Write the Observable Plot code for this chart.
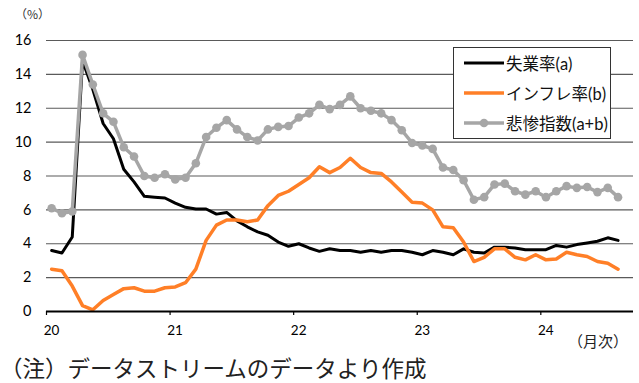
<!DOCTYPE html>
<html><head><meta charset="utf-8">
<script src="https://cdn.jsdelivr.net/npm/d3@7"></script>
<script src="https://cdn.jsdelivr.net/npm/@observablehq/plot@0.6"></script>
<style>
html,body{margin:0;background:#fff;overflow:hidden;}
#wrap{position:relative;width:639px;height:383px;overflow:hidden;font-family:Lato,"Noto Sans CJK JP",sans-serif;color:#000;}
#chart{position:absolute;left:0;top:0;}
.lbl{position:absolute;white-space:nowrap;font-family:"Noto Sans CJK JP",sans-serif;z-index:2;}
#legend{position:absolute;left:453px;top:47px;width:158px;height:92px;border:1.3px solid #333;background:#fff;box-sizing:border-box;}
.row{position:absolute;left:0;height:20px;display:flex;align-items:center;}
.row span{font-family:"Noto Sans CJK JP",sans-serif;font-size:16.5px;margin-left:2px;color:#111;}
.row span b{font-family:Lato,sans-serif;font-weight:normal;font-size:16.5px;}
</style></head>
<body>
<div id="wrap">
  <div id="chart"></div>
  <div class="lbl" style="left:15px;top:5px;font-size:12px;color:#333;">（%）</div>
  <div class="lbl" style="left:568px;top:330px;font-size:15px;color:#222;">（月次）</div>
  <div class="lbl" style="left:0px;top:351px;font-size:22.5px;color:#222;">（注）データストリームのデータより作成</div>
  <div id="legend"></div>
</div>
<script>
// Monthly data, Jan 2020 – Aug 2024
const unemployment = [3.6,3.45,4.4,14.8,13.1,11.1,10.2,8.4,7.65,6.8,6.75,6.7,6.4,6.15,6.05,6.05,5.75,5.85,5.35,5.0,4.7,4.5,4.1,3.85,4.0,3.75,3.55,3.7,3.6,3.6,3.5,3.6,3.5,3.6,3.6,3.5,3.35,3.6,3.5,3.35,3.7,3.5,3.45,3.8,3.8,3.75,3.65,3.65,3.65,3.9,3.8,3.95,4.05,4.15,4.35,4.2];
const inflation = [2.5,2.4,1.5,0.35,0.1,0.65,1.0,1.35,1.4,1.2,1.2,1.4,1.45,1.7,2.5,4.2,5.1,5.4,5.4,5.3,5.4,6.25,6.85,7.1,7.5,7.9,8.55,8.2,8.5,9.05,8.5,8.2,8.15,7.65,7.05,6.45,6.4,6.0,5.0,4.95,4.1,2.95,3.2,3.7,3.7,3.2,3.05,3.35,3.05,3.1,3.5,3.35,3.25,2.95,2.85,2.5];
const misery = [6.1,5.8,5.9,15.15,13.4,11.7,11.2,9.7,9.15,8.0,7.9,8.1,7.8,7.9,8.75,10.3,10.85,11.3,10.75,10.3,10.1,10.75,10.9,10.95,11.45,11.7,12.2,11.95,12.2,12.7,12.0,11.85,11.7,11.3,10.7,9.95,9.8,9.6,8.5,8.35,7.75,6.6,6.75,7.5,7.55,7.1,6.9,7.1,6.75,7.1,7.4,7.3,7.35,7.05,7.3,6.75];
const startYear = 20;
const nCategories = 57;
const yearTicks = [20, 21, 22, 23, 24];
const yTicks = [0, 2, 4, 6, 8, 10, 12, 14, 16];
const seriesNames = ["失業率", "インフレ率", "悲惨指数"];
const seriesTags = ["(a)", "(b)", "(a+b)"];
const seriesColors = ["#000000", "#ff7f27", "#a6a6a6"];

const monthX = i => startYear + (i + 0.5) / 12;
const toRows = arr => arr.map((v, i) => ({x: monthX(i), v}));
const uRows = toRows(unemployment), iRows = toRows(inflation), mRows = toRows(misery);

const chart = Plot.plot({
  width: 639, height: 350,
  marginLeft: 46, marginRight: 6, marginTop: 40, marginBottom: 39,
  style: {fontFamily: "Lato, sans-serif", background: "transparent"},
  x: {domain: [startYear, startYear + nCategories / 12]},
  y: {domain: [0, 16]},
  marks: [
    Plot.ruleY(yTicks.filter(d => d > 0), {stroke: "#5a5a5a", strokeWidth: 1.2}),
    Plot.axisY({ticks: yTicks, tickSize: 0, tickPadding: 15, fontSize: 14.5, label: null, fill: "#000"}),
    Plot.axisX({ticks: yearTicks, tickSize: 4, text: null, label: null, stroke: "#000", strokeWidth: 1.2}),
    Plot.axisX({ticks: yearTicks, tickSize: 0, tickPadding: 14, dx: 5, fontSize: 13.5, label: null, tickFormat: d => String(d)}),
    Plot.lineY(uRows, {x: "x", y: "v", stroke: seriesColors[0], strokeWidth: 3}),
    Plot.lineY(iRows, {x: "x", y: "v", stroke: seriesColors[1], strokeWidth: 3.5}),
    Plot.lineY(mRows, {x: "x", y: "v", stroke: seriesColors[2], strokeWidth: 3.5}),
    Plot.dot(mRows, {x: "x", y: "v", fill: seriesColors[2], r: 4.3, stroke: null}),
    Plot.ruleY([0], {stroke: "#000", strokeWidth: 2})
  ]
});
document.getElementById("chart").appendChild(chart);

// legend
const lg = document.getElementById("legend");
const rowTops = [5, 35, 65];
seriesNames.forEach((name, k) => {
  const row = document.createElement("div");
  row.className = "row";
  row.style.top = rowTops[k] + "px";
  const dot = k === 2 ? `<circle cx="30" cy="10" r="4.3" fill="${seriesColors[k]}"/>` : "";
  row.innerHTML = `<svg width="50" height="20"><line x1="10" x2="50" y1="10" y2="10" stroke="${seriesColors[k]}" stroke-width="${k===0?3:3.5}"/>${dot}</svg><span>${name}<b>${seriesTags[k]}</b></span>`;
  lg.appendChild(row);
});
</script>
</body></html>
